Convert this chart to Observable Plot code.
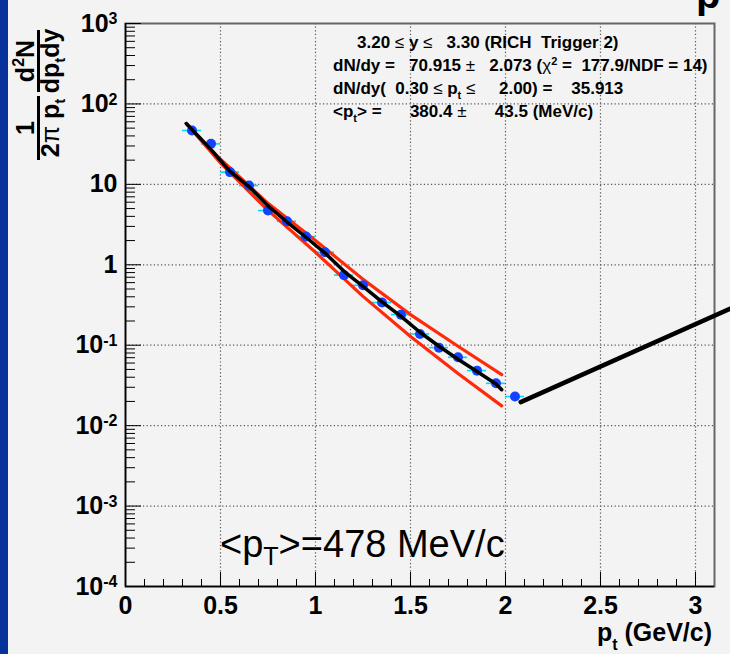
<!DOCTYPE html>
<html><head><meta charset="utf-8">
<script src="https://cdn.jsdelivr.net/npm/d3@7"></script>
<script src="https://cdn.jsdelivr.net/npm/@observablehq/plot@0.6"></script>
<style>
html,body{margin:0;padding:0;background:#f3f3f3;overflow:hidden;}
#wrap{position:relative;width:730px;height:654px;background:#f3f3f3;overflow:hidden;}
#strip{position:absolute;left:0;top:0;width:8px;height:654px;background:#07329c;z-index:2;}
#chart{position:absolute;left:0;top:0;}
svg text{white-space:pre;}
</style></head><body>
<div id="wrap"><div id="strip"></div><div id="chart"></div></div>
<script>
// ---- data ----
const ptPoints = [0.35,0.45,0.55,0.65,0.75,0.85,0.95,1.05,1.15,1.25,1.35,1.45,1.55,1.65,1.75,1.85,1.95,2.05];
const yieldPoints = [46.7,31.9,14.2,9.67,4.72,3.47,2.24,1.43,0.744,0.556,0.339,0.240,0.138,0.0933,0.0708,0.0483,0.0336,0.0230];
const ptHalfBin = 0.05;

const fitPt = [0.32,0.45,0.55,0.65,0.75,0.85,0.95,1.05,1.15,1.25,1.35,1.45,1.55,1.65,1.75,1.85,1.95,1.98];
const fitYield = [57,27,14.5,9.4,5.4,3.4,2.2,1.4,0.83,0.54,0.345,0.228,0.145,0.097,0.067,0.047,0.033,0.028];

const bandPt = [0.32,0.5,0.75,1.0,1.25,1.5,1.75,1.98];
const bandUpper = [57,20.5,5.8,2.0,0.66,0.24,0.097,0.043];
const bandLower = [57,18.4,4.75,1.43,0.405,0.128,0.0445,0.0176];

const pointerPt = [2.08,3.184];
const pointerYield = [0.0196,0.285];

const xTicks = [0,0.5,1,1.5,2,2.5,3];
const xTickLabels = ["0","0.5","1","1.5","2","2.5","3"];
const yTicks = [1e-4,1e-3,1e-2,1e-1,1,10,100,1000];
const yTickLabels = ["10^-4","10^-3","10^-2","10^-1","1","10","10^2","10^3"];
const xGrid = [0.5,1,1.5,2,2.5,3];
const yGrid = [1e-3,1e-2,1e-1,1,10,100];

// ---- tables for Plot ----
const pts = ptPoints.map((x,i)=>({x, y: yieldPoints[i]}));
const fit = fitPt.map((x,i)=>({x, y: fitYield[i]}));
const up = bandPt.map((x,i)=>({x, y: bandUpper[i]}));
const lo = bandPt.map((x,i)=>({x, y: bandLower[i]}));
const pointer = pointerPt.map((x,i)=>({x, y: pointerYield[i]}));
const yMinor = [];
for (let e=-4;e<3;e++) for (let k=2;k<10;k++) yMinor.push(k*Math.pow(10,e));
const xMinor = d3.range(0,31).map(i=>i/10);

const font = "'Liberation Sans', Arial, Helvetica, sans-serif";
const plot = Plot.plot({
  width:730, height:654,
  marginLeft:125, marginRight:16, marginTop:23, marginBottom:68,
  style:{background:"transparent", fontFamily:font, overflow:"visible"},
  x:{domain:[0,3.1], axis:null},
  y:{type:"log", domain:[1e-4,1e3], axis:null},
  marks:[
    Plot.gridX(xGrid, {stroke:"#555", strokeOpacity:1, strokeDasharray:"1.2,2.4", strokeWidth:1.2}),
    Plot.gridY(yGrid, {stroke:"#555", strokeOpacity:1, strokeDasharray:"1.2,2.4", strokeWidth:1.2}),
    Plot.frame({stroke:"#666", strokeWidth:2}),
    Plot.axisY(yMinor, {anchor:"left", tickSize:-10, tickFormat:()=>"", label:null, stroke:"#000"}),
    Plot.axisY(yTicks, {anchor:"left", tickSize:-16, tickFormat:()=>"", label:null, stroke:"#000"}),
    Plot.axisX(xMinor, {anchor:"bottom", tickSize:-7, tickFormat:()=>"", label:null, stroke:"#000"}),
    Plot.axisX(xTicks, {anchor:"bottom", tickSize:-14, tickFormat:()=>"", label:null, stroke:"#000"}),
    Plot.ruleX([0], {stroke:"#000", strokeWidth:1.5}),
    Plot.ruleY([1e-4], {stroke:"#000", strokeWidth:1.5}),
    Plot.ruleY(pts, {y:"y", x1:d=>d.x-ptHalfBin, x2:d=>d.x+ptHalfBin, stroke:"#00dcf0", strokeWidth:1.6}),
    Plot.line(up, {x:"x", y:"y", stroke:"#ff2a0a", strokeWidth:3.2}),
    Plot.line(lo, {x:"x", y:"y", stroke:"#ff2a0a", strokeWidth:3.2}),
    Plot.dot(pts, {x:"x", y:"y", r:5, fill:"#1242ff", stroke:"none"}),
    Plot.line(fit, {x:"x", y:"y", stroke:"#000", strokeWidth:3.5}),
    Plot.line(pointer, {x:"x", y:"y", stroke:"#000", strokeWidth:4.5}),
    Plot.text(yTicks, {x:()=>0, y:d=>d, text:(d,i)=>yTickLabels[i], dx:-8, textAnchor:"end", fontSize:25, fontWeight:"bold", fill:"#000"}),
    Plot.text(xTicks, {x:d=>d, y:()=>1e-4, text:(d,i)=>xTickLabels[i], dy:19, fontSize:25, fontWeight:"bold", fill:"#000"})
  ]
});
document.getElementById("chart").appendChild(plot);
const svg = d3.select(plot);

// superscripts in tick labels
svg.selectAll("text").each(function(){
  const t = d3.select(this);
  const m = /^(\d+)\^(-?\d+)$/.exec(this.textContent);
  if (!m) return;
  t.text(null);
  t.append("tspan").text(m[1]);
  t.append("tspan").attr("dy","-0.45em").attr("font-size",16).text(m[2]);
});

// y-axis title (rotated fractions)
const yt = svg.append("g").attr("transform","rotate(-90)").attr("font-family",font)
  .attr("font-weight","bold").attr("font-size",25).attr("fill","#000");
function frac(center, half, numFn, denFn){
  const n = yt.append("text").attr("x",-center).attr("y",34).attr("text-anchor","middle");
  numFn(n);
  const d = yt.append("text").attr("x",-center).attr("y",59).attr("text-anchor","middle");
  denFn(d);
  yt.append("line").attr("x1",-center-half).attr("x2",-center+half).attr("y1",38.5).attr("y2",38.5)
    .attr("stroke","#000").attr("stroke-width",3);
}
frac(128, 32, n=>n.text("1"), d=>{
  d.append("tspan").text("2");
  d.append("tspan").attr("font-weight","normal").text("π");
  d.append("tspan").text(" p");
  d.append("tspan").attr("dy",6).attr("font-size",15).text("t");
});
frac(61, 31, n=>{
  n.append("tspan").text("d");
  n.append("tspan").attr("dy",-10).attr("font-size",16).text("2");
  n.append("tspan").attr("dy",10).text("N");
}, d=>{
  d.append("tspan").text("dp");
  d.append("tspan").attr("dy",6).attr("font-size",15).text("t");
  d.append("tspan").attr("dy",-6).text("dy");
});

// x-axis title
const xt = svg.append("text").attr("x",712).attr("y",641).attr("text-anchor","end")
  .attr("font-family",font).attr("font-weight","bold").attr("font-size",25).attr("fill","#000");
xt.append("tspan").text("p");
xt.append("tspan").attr("dy",9).attr("font-size",16).text("t");
xt.append("tspan").attr("dy",-9).text(" (GeV/c)");

// statistics box text
const st = svg.append("g").attr("font-family",font).attr("font-weight","bold").attr("font-size",17)
  .attr("fill","#000").attr("text-anchor","start");
function seg(x, y, parts){
  const t = st.append("text").attr("x",x).attr("y",y).attr("text-anchor","start");
  parts.forEach(p=>{
    if (typeof p === "string") t.append("tspan").text(p);
    else {
      const s = t.append("tspan").text(p.t);
      if (p.w) s.attr("font-weight",p.w);
      if (p.dy) s.attr("dy",p.dy);
      if (p.fs) s.attr("font-size",p.fs);
    }
  });
}
seg(357, 48, ["3.20 ",{t:"≤",w:"normal"}," y ",{t:"≤",w:"normal"},"   3.30 (RICH  Trigger 2)"]);
seg(333, 71, ["dN/dy =   70.915 ",{t:"±",w:"normal"},"   2.073 (",{t:"χ",w:"normal"},{t:"2",dy:-6,fs:11},{t:" =  177.9/NDF = 14)",dy:6}]);
seg(333, 94, ["dN/dy(  0.30 ",{t:"≤",w:"normal"}," p",{t:"t",dy:5,fs:11},{t:" ",dy:-5},{t:"≤",w:"normal"},"     2.00) =    35.913"]);
seg(333, 117, ["<p",{t:"t",dy:5,fs:11},{t:"> =      380.4 ",dy:-5},{t:"±",w:"normal"},"      43.5 (MeV/c)"]);

// annotation
const an = svg.append("text").attr("x",220).attr("y",557).attr("text-anchor","start").attr("font-family",font)
  .attr("font-size",38).attr("fill","#000");
an.append("tspan").text("<p");
an.append("tspan").attr("dy",8).attr("font-size",25).text("T");
an.append("tspan").attr("dy",-8).text(">=478 MeV/c");

// cut-off title glyph at the top
svg.append("text").attr("x",696).attr("y",8).attr("text-anchor","start").attr("font-family",font).attr("font-weight","bold")
  .attr("font-size",40).attr("fill","#000").text("p");
</script>
</body></html>
